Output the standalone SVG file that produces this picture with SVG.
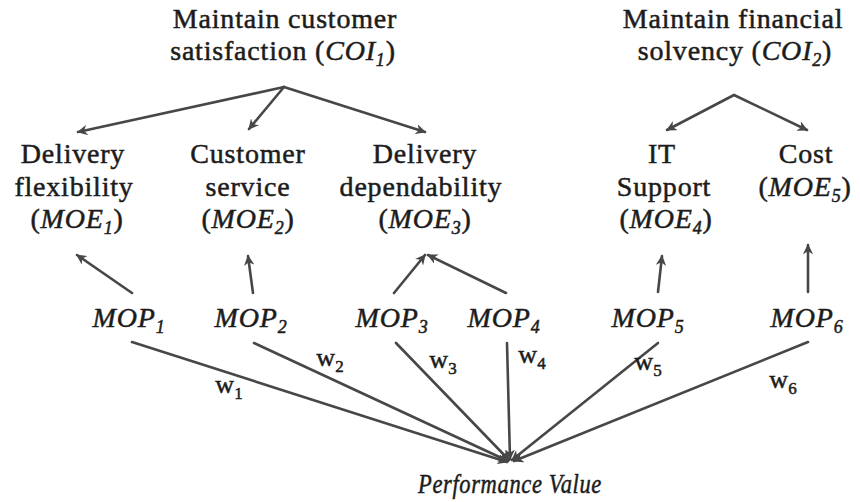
<svg xmlns="http://www.w3.org/2000/svg" width="860" height="502" viewBox="0 0 860 502">
  <defs>
    <style>
      text { font-family: 'Liberation Serif', 'Times New Roman', serif; fill: #1c1c1c; stroke: #1c1c1c; stroke-width: 0.5px; }
      .t { font-size: 28px; text-anchor: middle; letter-spacing: 0.8px; }
      .i { font-style: italic; }
      .s { font-size: 18px; }
      .w { font-size: 26px; text-anchor: middle; }
      .ws { font-size: 17px; }
      .c { stroke: #474747; stroke-width: 2.6; fill: none; stroke-linecap: round; }
      .a { marker-end: url(#head); }
    </style>
    <marker id="head" viewBox="0 0 10 10" refX="9" refY="5" markerWidth="4" markerHeight="4" orient="auto" markerUnits="strokeWidth">
      <path d="M0,0 L10,5 L0,10 L3,5 Z" fill="#474747"/>
    </marker>
  </defs>
  <rect width="860" height="502" fill="#ffffff"/>

  <!-- connectors -->
  <g id="connectors">
    <!-- objectives to measures of effectiveness -->
    <line class="c a" x1="284" y1="87" x2="78" y2="132"/>
    <line class="c a" x1="284" y1="87" x2="249" y2="129"/>
    <line class="c a" x1="284" y1="87" x2="425" y2="132"/>
    <line class="c a" x1="734" y1="95" x2="667" y2="130"/>
    <line class="c a" x1="734" y1="95" x2="807" y2="130"/>
    <!-- performance measures to effectiveness measures -->
    <line class="c a" x1="132" y1="293" x2="77" y2="255"/>
    <line class="c a" x1="253" y1="293" x2="248" y2="256"/>
    <line class="c a" x1="394" y1="293" x2="425" y2="255"/>
    <line class="c a" x1="506" y1="293" x2="428" y2="255"/>
    <line class="c a" x1="658" y1="292" x2="662" y2="256"/>
    <line class="c a" x1="808" y1="292" x2="808" y2="245"/>
    <!-- weighted links to the performance value -->
    <line class="c a" x1="132" y1="342" x2="507" y2="462"/>
    <line class="c a" x1="254" y1="343" x2="508" y2="461"/>
    <line class="c a" x1="396" y1="343" x2="509" y2="460"/>
    <line class="c a" x1="507" y1="343" x2="510" y2="459"/>
    <line class="c a" x1="658" y1="343" x2="512" y2="460"/>
    <line class="c a" x1="808" y1="342" x2="514" y2="461"/>
  </g>

  <!-- customer objective -->
  <g id="coi1">
    <text class="t" x="285" y="28">Maintain customer</text>
    <text class="t" x="283" y="60">satisfaction (<tspan class="i">COI</tspan><tspan class="i s" dy="6">1</tspan><tspan dy="-6">)</tspan></text>
  </g>

  <!-- financial objective -->
  <g id="coi2">
    <text class="t" x="733" y="28">Maintain financial</text>
    <text class="t" x="735" y="60">solvency (<tspan class="i">COI</tspan><tspan class="i s" dy="6">2</tspan><tspan dy="-6">)</tspan></text>
  </g>

  <!-- measures of effectiveness -->
  <g id="moe1">
    <text class="t" x="73" y="163">Delivery</text>
    <text class="t" x="74" y="196">flexibility</text>
    <text class="t" x="77" y="228">(<tspan class="i">MOE</tspan><tspan class="i s" dy="6">1</tspan><tspan dy="-6">)</tspan></text>
  </g>
  <g id="moe2">
    <text class="t" x="248" y="163">Customer</text>
    <text class="t" x="248" y="196">service</text>
    <text class="t" x="248" y="228">(<tspan class="i">MOE</tspan><tspan class="i s" dy="6">2</tspan><tspan dy="-6">)</tspan></text>
  </g>
  <g id="moe3">
    <text class="t" x="425" y="163">Delivery</text>
    <text class="t" x="421" y="196">dependability</text>
    <text class="t" x="425" y="228">(<tspan class="i">MOE</tspan><tspan class="i s" dy="6">3</tspan><tspan dy="-6">)</tspan></text>
  </g>
  <g id="moe4">
    <text class="t" x="662" y="163">IT</text>
    <text class="t" x="664" y="196">Support</text>
    <text class="t" x="666" y="228">(<tspan class="i">MOE</tspan><tspan class="i s" dy="6">4</tspan><tspan dy="-6">)</tspan></text>
  </g>
  <g id="moe5">
    <text class="t" x="806" y="163">Cost</text>
    <text class="t" x="805" y="196">(<tspan class="i">MOE</tspan><tspan class="i s" dy="6">5</tspan><tspan dy="-6">)</tspan></text>
  </g>

  <!-- measures of performance -->
  <g id="mop1"><text class="t i" x="129" y="327">MOP<tspan class="s" dy="6">1</tspan></text></g>
  <g id="mop2"><text class="t i" x="251" y="327">MOP<tspan class="s" dy="6">2</tspan></text></g>
  <g id="mop3"><text class="t i" x="392" y="327">MOP<tspan class="s" dy="6">3</tspan></text></g>
  <g id="mop4"><text class="t i" x="504" y="327">MOP<tspan class="s" dy="6">4</tspan></text></g>
  <g id="mop5"><text class="t i" x="648" y="327">MOP<tspan class="s" dy="6">5</tspan></text></g>
  <g id="mop6"><text class="t i" x="807" y="327">MOP<tspan class="s" dy="6">6</tspan></text></g>

  <!-- weights -->
  <g id="weights">
    <text class="w" x="229" y="393">w<tspan class="ws" dy="6">1</tspan></text>
    <text class="w" x="330" y="366">w<tspan class="ws" dy="6">2</tspan></text>
    <text class="w" x="443" y="368">w<tspan class="ws" dy="6">3</tspan></text>
    <text class="w" x="532" y="363">w<tspan class="ws" dy="6">4</tspan></text>
    <text class="w" x="648" y="370">w<tspan class="ws" dy="6">5</tspan></text>
    <text class="w" x="783" y="388">w<tspan class="ws" dy="6">6</tspan></text>
  </g>

  <!-- aggregate -->
  <g id="performance-value">
    <text class="t i" x="510" y="493" textLength="184" lengthAdjust="spacingAndGlyphs">Performance Value</text>
  </g>
</svg>
